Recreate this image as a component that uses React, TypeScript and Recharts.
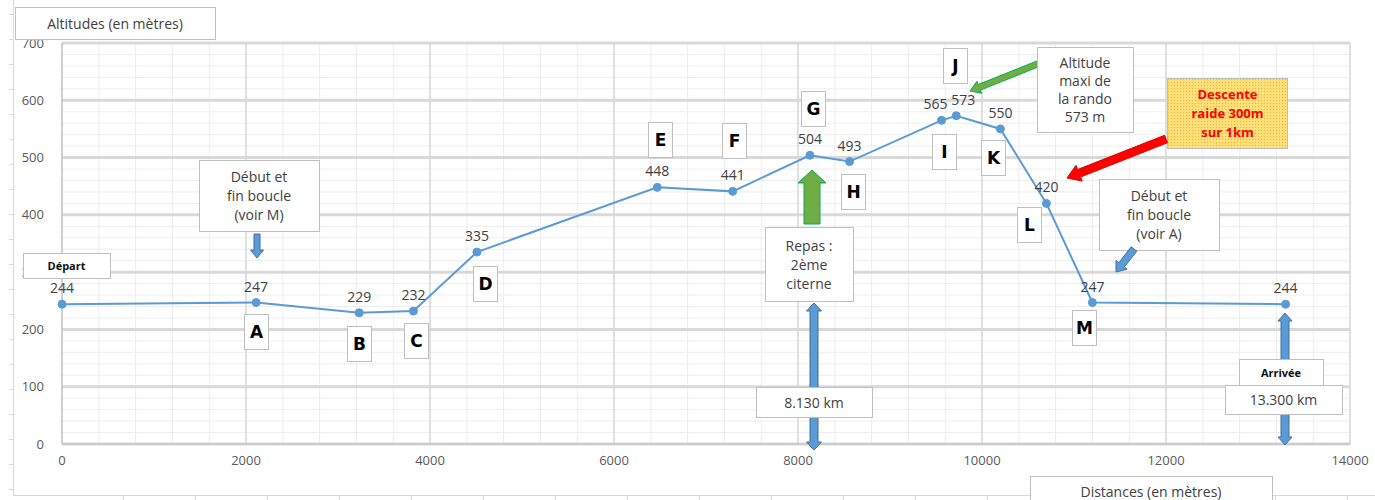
import React from 'react';
import { LineChart, Line, XAxis, YAxis, CartesianGrid, LabelList } from 'recharts';

// Distances (m) and altitudes (m)
const distances = [0, 2110, 3230, 3820, 4510, 6470, 7290, 8130, 8560, 9560, 9720, 10200, 10700, 11200, 13300];
const altitudes = [244, 247, 229, 232, 335, 448, 441, 504, 493, 565, 573, 550, 420, 247, 244];
const xTicks = [0, 2000, 4000, 6000, 8000, 10000, 12000, 14000];
const yTicks = [0, 100, 200, 300, 400, 500, 600, 700];

const data = distances.map((d, i) => ({ dist: d, alt: altitudes[i] }));

const minorX = Array.from({ length: 36 }, (_, i) => i * 400);
const minorY = Array.from({ length: 36 }, (_, i) => i * 20);

const W = 1375;
const H = 500;
const BOX_FONT = '"Open Sans", sans-serif';

// small horizontal nudges so the 565 / 573 labels don't sit exactly on each other
const labelNudge: Record<number, number> = { 9: -6, 10: 7 };

// letter tags: [letter, left, top]
const letters: [string, number, number][] = [
  ['A', 244, 314], ['B', 347, 326], ['C', 404, 323], ['D', 473, 266],
  ['E', 648, 122], ['F', 722, 123], ['G', 801, 91], ['H', 841, 174],
  ['I', 932, 134], ['J', 943, 48], ['K', 981, 140], ['L', 1017, 207],
  ['M', 1072, 310],
];

function blockArrow(x1: number, y1: number, x2: number, y2: number, shaft: number, head: number, headLen: number) {
  const dx = x2 - x1, dy = y2 - y1;
  const len = Math.hypot(dx, dy);
  const ux = dx / len, uy = dy / len;
  const nx = -uy, ny = ux;
  const bx = x2 - ux * headLen, by = y2 - uy * headLen;
  const p = (x: number, y: number) => `${x.toFixed(1)},${y.toFixed(1)}`;
  return [
    p(x1 + nx * shaft / 2, y1 + ny * shaft / 2),
    p(bx + nx * shaft / 2, by + ny * shaft / 2),
    p(bx + nx * head / 2, by + ny * head / 2),
    p(x2, y2),
    p(bx - nx * head / 2, by - ny * head / 2),
    p(bx - nx * shaft / 2, by - ny * shaft / 2),
    p(x1 - nx * shaft / 2, y1 - ny * shaft / 2),
  ].join(' ');
}

function TextBox({ x, y, w, h, lines, size = 14, bold = false, color = '#404040', fill = '#fff', lh = 19 }: any) {
  const cy = y + h / 2 - ((lines.length - 1) * lh) / 2;
  return (
    <g>
      <rect x={x + 0.5} y={y + 0.5} width={w} height={h} fill={fill} stroke="#bfbfbf" strokeWidth={1} />
      {lines.map((t: string, i: number) => (
        <text key={i} x={x + w / 2} y={cy + i * lh} textAnchor="middle" dominantBaseline="central"
          fontFamily={BOX_FONT} fontSize={size} fontWeight={bold ? 700 : 400} fill={color}>{t}</text>
      ))}
    </g>
  );
}

function Overlay() {
  const blue = { fill: '#5b9bd5', stroke: '#41719c', strokeWidth: 1 };
  const green = { fill: '#70ad47', stroke: '#00b050', strokeWidth: 1 };
  const leftTicks = Array.from({ length: 20 }, (_, i) => 14 + i * 25);
  const bottomTicks = Array.from({ length: 18 }, (_, i) => 123 + i * 72);
  return (
    <svg width={W} height={H} style={{ position: 'absolute', left: 0, top: 0, pointerEvents: 'none' }}>
      <defs>
        <pattern id="dots" width="3" height="3" patternUnits="userSpaceOnUse">
          <rect width="3" height="3" fill="#ffe17d" />
          <circle cx="1.5" cy="1.5" r="0.7" fill="#f2b92e" />
        </pattern>
      </defs>
      {/* sheet frame behind the chart */}
      <line x1={13.5} y1={0} x2={13.5} y2={496} stroke="#d9d9d9" />
      {leftTicks.map((y) => <line key={y} x1={9} y1={y + 0.5} x2={13} y2={y + 0.5} stroke="#d9d9d9" />)}
      <line x1={13} y1={495.5} x2={W} y2={495.5} stroke="#d9d9d9" />
      {bottomTicks.map((x) => <line key={x} x1={x + 0.5} y1={496} x2={x + 0.5} y2={500} stroke="#d9d9d9" />)}

      <TextBox x={15} y={7} w={200} h={32} lines={['Altitudes (en mètres)']} size={14} />
      <TextBox x={23} y={253} w={87} h={25} lines={['Départ']} size={11} bold color="#111" />

      <TextBox x={199} y={160} w={120} h={71} lines={['Début et', 'fin boucle', '(voir M)']} />
      <polygon points={blockArrow(257, 234, 257, 258, 6, 13, 8)} {...blue} />

      {letters.map(([l, x, y]) => (
        <g key={l}>
          <rect x={x + 0.5} y={y + 0.5} width={24} height={35} fill="#fff" stroke="#bfbfbf" />
          <text x={x + 12.5} y={y + 18} textAnchor="middle" dominantBaseline="central"
            fontFamily='"DejaVu Sans", sans-serif' fontWeight={700} fontSize={17} fill="#000">{l}</text>
        </g>
      ))}

      <polygon points={blockArrow(812, 224, 812, 170, 16, 28, 13)} {...green} />
      <TextBox x={765} y={227} w={88} h={74} lines={['Repas :', '2ème', 'citerne']} />
      <polygon points={blockArrow(814, 390, 814, 303, 8, 15, 8)} {...blue} />
      <polygon points={blockArrow(814, 414, 814, 450, 8, 15, 8)} {...blue} />
      <TextBox x={756} y={387} w={116} h={30} lines={['8.130 km']} />

      <polygon points={blockArrow(1040, 63, 970, 91, 6, 13, 10)} {...green} />
      <TextBox x={1037} y={47} w={96} h={85} lines={['Altitude', 'maxi de', 'la rando', '573 m']} lh={18} />

      <rect x={1167.5} y={78.5} width={120} height={70} fill="url(#dots)" stroke="#bfbfbf" />
      {['Descente', 'raide 300m', 'sur 1km'].map((t, i) => (
        <text key={t} x={1227.5} y={94 + i * 19} textAnchor="middle" dominantBaseline="central"
          fontFamily={BOX_FONT} fontSize={13} fontWeight={700} fill="#ff0000">{t}</text>
      ))}
      <polygon points={blockArrow(1166, 139, 1067, 178, 8, 17, 13)} fill="#ff0000" stroke="#e00000" />

      <TextBox x={1099} y={179} w={120} h={71} lines={['Début et', 'fin boucle', '(voir A)']} />
      <polygon points={blockArrow(1134, 249, 1116, 272, 7, 14, 9)} {...blue} />

      <polygon points={blockArrow(1285, 362, 1285, 313, 8, 14, 8)} {...blue} />
      <polygon points={blockArrow(1285, 412, 1285, 445, 8, 14, 8)} {...blue} />
      <TextBox x={1239} y={359} w={84} h={26} lines={['Arrivée']} size={11} bold color="#111" />
      <TextBox x={1225} y={385} w={117} h={29} lines={['13.300 km']} />

      <TextBox x={1030} y={476} w={242} h={30} lines={['Distances (en mètres)']} />
    </svg>
  );
}

function ValueLabel(props: any) {
  const { x, y, value, index } = props;
  const dx = labelNudge[index] || 0;
  return (
    <text x={x + dx} y={y - 11} textAnchor="middle" fontSize={14} fill="#404040" fontFamily={BOX_FONT}>
      {value}
    </text>
  );
}

export default function App() {
  const tick = { fontSize: 13, fill: '#595959', fontFamily: BOX_FONT };
  return (
    <div style={{ position: 'absolute', left: 0, top: 0, width: W, height: H, background: '#fff' }}>
      <LineChart width={W} height={H} data={data} margin={{ top: 43, right: 25, bottom: 26, left: 18 }}>
        <CartesianGrid stroke="#eeeeee" strokeWidth={1} verticalValues={minorX} horizontalValues={minorY} />
        <CartesianGrid stroke="#d9d9d9" strokeWidth={1.5} horizontal={false} verticalValues={xTicks} />
        <CartesianGrid stroke="#d9d9d9" strokeWidth={3} vertical={false} horizontalValues={yTicks} />
        <XAxis dataKey="dist" type="number" domain={[0, 14000]} ticks={xTicks} tickSize={0} tickMargin={12}
          height={30} stroke="#bfbfbf" tick={tick} interval={0} />
        <YAxis type="number" domain={[0, 700]} ticks={yTicks} tickSize={0} tickMargin={18} width={44}
          stroke="#bfbfbf" tick={tick} interval={0} />
        <Line dataKey="alt" stroke="#5b9bd5" strokeWidth={2} isAnimationActive={false}
          dot={{ r: 4, fill: '#5b9bd5', stroke: '#5b9bd5', strokeWidth: 1 }}>
          <LabelList dataKey="alt" content={<ValueLabel />} />
        </Line>
      </LineChart>
      <Overlay />
    </div>
  );
}
